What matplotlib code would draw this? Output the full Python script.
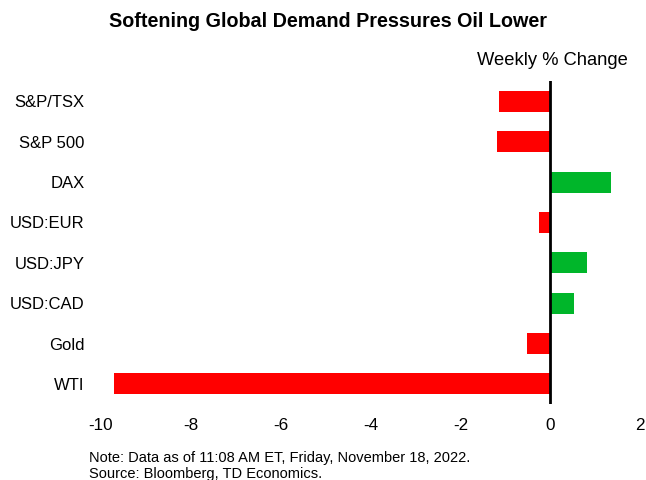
import matplotlib

matplotlib.use("Agg")
import matplotlib.pyplot as plt

plt.rcParams["font.family"] = ["Liberation Sans", "DejaVu Sans"]

categories = ["S&P/TSX", "S&P 500", "DAX", "USD:EUR", "USD:JPY", "USD:CAD", "Gold", "WTI"]
weekly_change = [-1.14, -1.18, 1.34, -0.24, 0.82, 0.53, -0.51, -9.71]
x_ticks = [-10, -8, -6, -4, -2, 0, 2]

RED = "#ff0000"
GREEN = "#00b62a"

fig = plt.figure(figsize=(6.46, 4.8), dpi=100)
ax = fig.add_axes([0.156, 0.158, 0.835, 0.673])

colors = [GREEN if v > 0 else RED for v in weekly_change]
ax.barh(range(len(categories)), weekly_change, height=0.52, color=colors, zorder=2)
ax.axvline(0, color="black", linewidth=2, zorder=3)

ax.set_xlim(-10, 2)
ax.set_ylim(len(categories) - 0.5, -0.5)
ax.set_yticks(range(len(categories)))
ax.set_yticklabels(categories, fontsize=12)
ax.set_xticks(x_ticks)
ax.set_xticklabels([str(t) for t in x_ticks], fontsize=12.3)
ax.tick_params(length=0)
ax.tick_params(axis="x", pad=10)
ax.tick_params(axis="y", pad=11.5)
for s in ax.spines.values():
    s.set_visible(False)

fig.text(0.507, 0.955, "Softening Global Demand Pressures Oil Lower",
         ha="center", va="center", fontsize=14.2, fontweight="bold")
fig.text(0.855, 0.873, "Weekly % Change", ha="center", va="center", fontsize=13.2)
fig.text(0.138, 0.046, "Note: Data as of 11:08 AM ET, Friday, November 18, 2022.",
         ha="left", va="center", fontsize=10.5)
fig.text(0.138, 0.013, "Source: Bloomberg, TD Economics.",
         ha="left", va="center", fontsize=10.5)

fig.savefig("out.png", dpi=100)
